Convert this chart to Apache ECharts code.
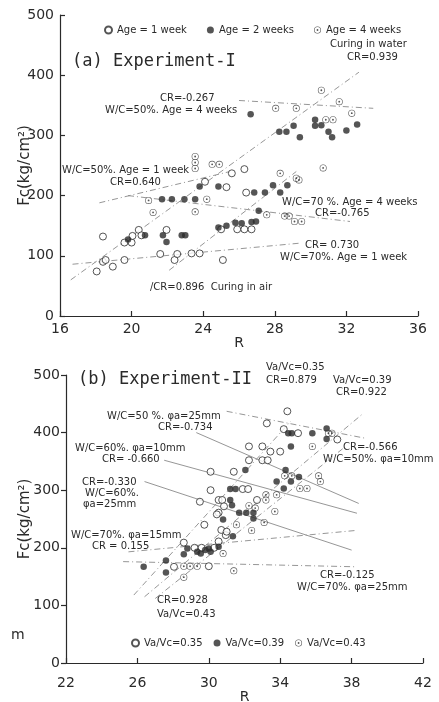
<!DOCTYPE html>
<html>
<head>
<meta charset="utf-8">
<script src="https://cdn.jsdelivr.net/npm/echarts@6/dist/echarts.min.js"></script>
<style>
  html, body { margin: 0; padding: 0; background: #fff; }
  #chart { width: 439px; height: 702px; }
</style>
</head>
<body>
<div id="chart"></div>
<script>
// (a) Experiment-I : points, [R, Fc]
const ageWeek1 = [[18.05,74],[18.4,90],[18.55,93],[18.95,82],[19.6,93],[18.4,132],[19.6,122],[20.0,122],[20.05,133],[20.4,143],[20.55,134],[21.6,103],[21.95,143],[22.4,93],[22.55,103],[23.35,104],[23.8,104],[25.1,93],[24.1,223],[25.3,214],[26.3,244],[25.6,237],[26.4,205],[25.0,144],[25.9,144],[26.3,144],[26.7,144]];
const ageWeek2 = [[19.8,127],[20.75,134],[21.75,134],[21.95,123],[22.8,134],[23.0,134],[21.7,194],[22.25,194],[22.95,194],[23.55,194],[23.8,215],[24.85,215],[24.85,147],[25.3,150],[25.8,155],[26.15,154],[26.7,156],[26.95,157],[27.1,175],[26.85,205],[27.45,205],[27.9,217],[28.3,205],[28.7,217],[26.65,335],[28.25,306],[28.65,306],[29.05,316],[29.4,297],[30.25,326],[30.25,316],[30.6,317],[31.0,306],[31.2,297],[32.0,308],[32.6,318]];
const ageWeek4 = [[20.95,192],[21.2,172],[23.55,173],[24.2,194],[23.55,265],[23.55,255],[23.55,245],[24.5,252],[24.9,252],[27.55,168],[28.55,166],[28.8,166],[29.1,157],[29.5,157],[28.3,237],[29.2,229],[29.35,226],[30.7,246],[28.05,345],[29.2,345],[30.6,375],[31.6,356],[30.85,326],[31.25,326],[32.3,337]];

// regression lines of (a), end points
const fitWater = [[16.6,60],[32.7,405]];
const fitAir = [[22.1,76],[29.2,240]];
const fitA50w4 = [[26.0,358],[33.5,345]];
const fitA50w1 = [[18.2,188],[25.5,240]];
const fitA70w4 = [[19.8,200],[32.2,157]];
const fitA70w1 = [[16.7,86],[29.4,121]];

// (b) Experiment-II
const vaVc035 = [[34.4,437],[33.25,416],[34.2,406],[35.0,399],[37.2,388],[32.25,376],[33.0,376],[33.45,367],[34.0,367],[32.25,352],[33.0,352],[33.3,352],[30.1,332],[31.4,332],[30.1,300],[31.9,302],[32.2,302],[29.5,280],[30.55,283],[30.75,283],[30.85,272],[32.7,283],[30.55,261],[29.75,240],[30.45,258],[30.7,231],[30.95,222],[31.0,228],[30.55,211],[28.6,209],[29.2,200],[29.6,200],[30.3,200],[28.05,167],[30.0,168]];
const vaVc039 = [[34.45,399],[34.65,399],[35.8,399],[36.6,407],[36.6,389],[34.6,376],[32.05,335],[34.3,335],[33.8,315],[34.2,303],[34.6,315],[35.05,323],[31.2,302],[31.5,302],[31.2,283],[31.3,274],[30.8,249],[31.7,261],[32.1,261],[32.5,261],[32.5,251],[31.35,220],[30.55,202],[29.35,193],[29.55,190],[29.8,196],[30.0,199],[30.1,193],[28.8,199],[28.6,189],[27.6,178],[27.6,157],[26.35,167]];
const vaVc043 = [[36.7,399],[36.9,399],[35.8,376],[34.25,325],[34.65,325],[36.15,325],[36.25,315],[35.1,303],[35.5,303],[33.8,292],[33.2,292],[33.2,283],[32.6,269],[32.25,273],[33.7,263],[33.1,244],[32.4,230],[31.55,240],[30.8,190],[28.6,168],[28.95,168],[29.35,168],[28.6,149],[31.4,160]];

const fitB035 = [[25.8,118],[34.6,420]];
const fitB039 = [[26.4,115],[38.6,432]];
const fitB043 = [[27.0,112],[37.5,372]];
const fitB50d25 = [[29.3,400],[38.4,277]];
const fitB50d10 = [[31.0,437],[38.8,390]];
const fitB60d10 = [[27.5,352],[38.3,260]];
const fitB60d25 = [[26.4,315],[38.0,196]];
const fitB70d15 = [[25.5,193],[38.2,230]];
const fitB70d25 = [[25.2,176],[38.3,167]];

const ticksA = [16, 20, 24, 28, 32, 36];
const ticksB = [22, 26, 30, 34, 38, 42];
const ticksFc = [0, 100, 200, 300, 400, 500];

const ink = '#2a2a2a';
const faint = '#8a8a8a';
const txtFont = '10px "DejaVu Sans"';
const dotRing = 'path://M0,-10A10,10 0 1,1 0,10A10,10 0 1,1 0,-10ZM0,-8.3A8.3,8.3 0 1,0 0,8.3A8.3,8.3 0 1,0 0,-8.3ZM0,-2.6A2.6,2.6 0 1,1 0,2.6A2.6,2.6 0 1,1 0,-2.6Z';

function pts(name, data, kind, idx) {
  const s = {
    name: name, type: 'scatter', data: data,
    xAxisIndex: idx, yAxisIndex: idx, symbolSize: 7, z: 5
  };
  if (kind === 'open') {
    s.symbol = 'circle';
    s.itemStyle = { color: '#fff', borderColor: ink, borderWidth: 1 };
  } else if (kind === 'fill') {
    s.symbol = 'circle';
    s.symbolSize = 6.5;
    s.itemStyle = { color: ink };
  } else {
    s.symbol = dotRing;
    s.itemStyle = { color: ink };
  }
  return s;
}

function fit(data, idx, dash) {
  return {
    type: 'line', data: data, xAxisIndex: idx, yAxisIndex: idx,
    showSymbol: false, symbol: 'none', silent: true, z: 2,
    lineStyle: { color: faint, width: 0.9, type: dash || [6, 3, 1, 3] }
  };
}

function txt(x, y, s, font) {
  return {
    type: 'text', x: x, y: y, silent: true,
    style: { text: s, font: font || txtFont, fill: ink, textAlign: 'left', textVerticalAlign: 'middle' }
  };
}

function xAx(idx, ticks, margin, gap) {
  return {
    type: 'value', gridIndex: idx, min: ticks[0], max: ticks[ticks.length - 1], interval: 4,
    name: 'R', nameLocation: 'middle', nameGap: gap, nameMoveOverlap: false,
    nameTextStyle: { color: ink, fontSize: 14, fontFamily: 'DejaVu Sans' },
    axisLine: { lineStyle: { color: ink, width: 1.2 } },
    axisTick: { inside: true, length: 5, lineStyle: { color: ink, width: 1.2 } },
    axisLabel: { color: ink, fontSize: 14, fontFamily: 'DejaVu Sans', margin: margin },
    splitLine: { show: false }
  };
}

function yAx(idx, inside, gap) {
  return {
    type: 'value', gridIndex: idx, min: ticksFc[0], max: ticksFc[ticksFc.length - 1], interval: 100,
    name: 'Fc(kg/cm²)', nameLocation: 'middle', nameGap: gap, nameRotate: 90, nameMoveOverlap: false,
    nameTextStyle: { color: ink, fontSize: 15, fontFamily: 'DejaVu Sans' },
    axisLine: { show: true, lineStyle: { color: ink, width: 1.2 } },
    axisTick: { inside: inside, length: 5, lineStyle: { color: ink, width: 1.2 } },
    axisLabel: { color: ink, fontSize: 14, fontFamily: 'DejaVu Sans', margin: 6 },
    splitLine: { show: false }
  };
}

const chart = echarts.init(document.getElementById('chart'), null, { renderer: 'canvas' });

chart.setOption({
  backgroundColor: '#fff',
  animation: false,
  grid: [
    { left: 60, right: 21, top: 15, bottom: 386, outerBoundsMode: 'none' },
    { left: 66, right: 16, top: 375, bottom: 39, outerBoundsMode: 'none' }
  ],
  xAxis: [xAx(0, ticksA, 6, 20), xAx(1, ticksB, 13, 27)],
  yAxis: [yAx(0, true, 27), yAx(1, false, 33)],
  legend: [
    {
      data: ['Age = 1 week', 'Age = 2 weeks', 'Age = 4 weeks'],
      left: 99, top: 20, itemWidth: 7, itemHeight: 7, itemGap: 20,
      textStyle: { color: ink, fontSize: 10, fontFamily: 'DejaVu Sans' }
    },
    {
      data: ['Va/Vc=0.35', 'Va/Vc=0.39', 'Va/Vc=0.43'],
      left: 126, top: 633, itemWidth: 7, itemHeight: 7, itemGap: 11,
      textStyle: { color: ink, fontSize: 10, fontFamily: 'DejaVu Sans' }
    }
  ],
  series: [
    fit(fitWater, 0), fit(fitAir, 0), fit(fitA50w4, 0), fit(fitA50w1, 0),
    fit(fitA70w4, 0), fit(fitA70w1, 0),
    pts('Age = 1 week', ageWeek1, 'open', 0),
    pts('Age = 2 weeks', ageWeek2, 'fill', 0),
    pts('Age = 4 weeks', ageWeek4, 'dot', 0),
    fit(fitB035, 1), fit(fitB039, 1), fit(fitB043, 1),
    fit(fitB50d25, 1, 'solid'), fit(fitB50d10, 1), fit(fitB60d10, 1, 'solid'),
    fit(fitB60d25, 1, 'solid'), fit(fitB70d15, 1), fit(fitB70d25, 1),
    pts('Va/Vc=0.35', vaVc035, 'open', 1),
    pts('Va/Vc=0.39', vaVc039, 'fill', 1),
    pts('Va/Vc=0.43', vaVc043, 'dot', 1)
  ],
  graphic: [
    txt(72, 62, '(a) Experiment-I', '17px "DejaVu Sans Mono"'),
    txt(330, 44, 'Curing in water'),
    txt(347, 57, 'CR=0.939'),
    txt(160, 98, 'CR=-0.267'),
    txt(105, 110, 'W/C=50%. Age = 4 weeks'),
    txt(62, 170, 'W/C=50%. Age = 1 week'),
    txt(110, 182, 'CR=0.640'),
    txt(282, 202, 'W/C=70 %. Age = 4 weeks'),
    txt(315, 213, 'CR=-0.765'),
    txt(305, 245, 'CR= 0.730'),
    txt(280, 257, 'W/C=70%. Age = 1 week'),
    txt(150, 287, '/CR=0.896  Curing in air'),

    txt(78, 380, '(b) Experiment-II', '17px "DejaVu Sans Mono"'),
    txt(266, 367, 'Va/Vc=0.35'),
    txt(266, 380, 'CR=0.879'),
    txt(333, 380, 'Va/Vc=0.39'),
    txt(336, 392, 'CR=0.922'),
    txt(107, 416, 'W/C=50 %. φa=25mm'),
    txt(158, 427, 'CR=-0.734'),
    txt(75, 448, 'W/C=60%. φa=10mm'),
    txt(102, 459, 'CR= -0.660'),
    txt(343, 447, 'CR=-0.566'),
    txt(323, 459, 'W/C=50%. φa=10mm'),
    txt(82, 482, 'CR=-0.330'),
    txt(85, 493, 'W/C=60%.'),
    txt(83, 504, 'φa=25mm'),
    txt(71, 535, 'W/C=70%. φa=15mm'),
    txt(92, 546, 'CR = 0.155'),
    txt(320, 575, 'CR=-0.125'),
    txt(297, 587, 'W/C=70%. φa=25mm'),
    txt(157, 600, 'CR=0.928'),
    txt(157, 614, 'Va/Vc=0.43'),
    txt(11, 635, 'm', '14px "DejaVu Sans"')
  ]
});
</script>
</body>
</html>
